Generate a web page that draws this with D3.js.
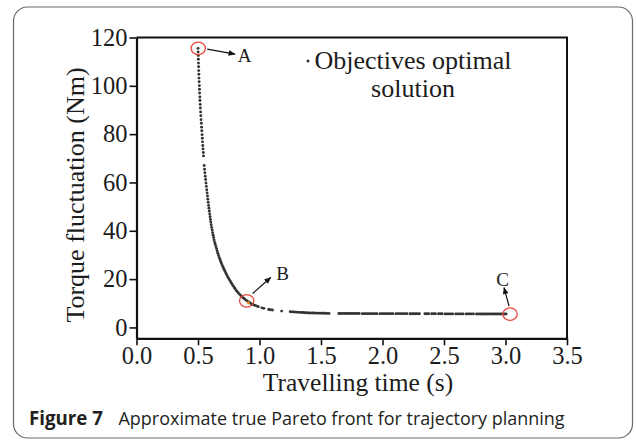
<!DOCTYPE html>
<html>
<head>
<meta charset="utf-8">
<script src="https://cdn.jsdelivr.net/npm/d3@7"></script>
<style>
  html, body { margin: 0; padding: 0; background: #fff; }
  svg { display: block; }
</style>
</head>
<body>
<svg id="chart" width="636" height="441"></svg>
<script>
// Axis ticks
const xTicks = [0, 0.5, 1.0, 1.5, 2.0, 2.5, 3.0, 3.5];
const yTicks = [0, 20, 40, 60, 80, 100, 120];

// Non-dominated solutions: [travelling time (s), torque fluctuation (Nm)]
const paretoFront = [
  [0.500,115.5],[0.501,114.0],[0.502,112.5],[0.503,111.0],[0.504,109.4],[0.505,107.9],
  [0.506,106.3],[0.507,104.8],[0.508,103.2],[0.509,101.7],[0.511,100.1],[0.512,98.6],
  [0.513,97.0],[0.515,95.4],[0.516,93.9],[0.518,92.3],[0.519,90.8],[0.521,89.2],
  [0.523,87.6],[0.525,86.0],[0.527,84.5],[0.529,82.9],[0.531,81.4],[0.533,79.8],
  [0.535,78.3],[0.537,76.8],[0.539,75.3],[0.541,73.9],[0.543,72.4],[0.545,71.0],
  [0.550,67.0],[0.553,65.5],[0.556,64.0],[0.559,62.6],[0.562,61.2],[0.565,59.8],
  [0.568,58.4],[0.571,57.0],[0.574,55.7],[0.577,54.4],[0.580,53.1],[0.583,51.8],
  [0.586,50.5],[0.589,49.3],[0.592,48.1],[0.595,46.9],[0.598,45.8],[0.601,44.7],
  [0.604,43.6],[0.607,42.5],[0.611,41.4],[0.615,40.3],[0.619,39.2],[0.623,38.2],
  [0.627,37.2],[0.631,36.2],[0.636,35.2],[0.641,34.3],[0.646,33.4],[0.651,32.5],
  [0.656,31.6],[0.661,30.7],[0.667,29.8],[0.673,28.9],[0.679,28.1],[0.685,27.3],
  [0.691,26.5],[0.697,25.7],[0.704,24.9],[0.711,24.1],[0.718,23.4],[0.725,22.6],
  [0.732,21.9],[0.740,21.1],[0.748,20.4],[0.756,19.7],[0.764,19.0],[0.772,18.3],
  [0.781,17.6],[0.790,16.9],[0.799,16.2],[0.808,15.5],[0.818,14.9],[0.828,14.3],
  [0.838,13.7],[0.849,13.1],[0.860,12.6],[0.871,12.1],[0.883,11.6],[0.895,11.1],
  [0.908,10.6],[0.920,10.2],[0.933,9.8],[0.946,9.5],[0.960,9.2],[0.975,8.9],
  [0.990,8.6],[1.020,8.1],[1.035,7.9],[1.075,7.4],[1.090,7.3],[1.105,7.2],
  [1.180,6.75],[1.250,6.5],[1.265,6.45],[1.280,6.4],[1.295,6.35],[1.310,6.3],
  [1.325,6.25],[1.340,6.2],[1.355,6.15],[1.370,6.1],[1.385,6.05],[1.400,6.0],
  [1.415,6.0],[1.430,5.95],[1.445,5.95],[1.460,5.9],[1.475,5.9],[1.490,5.9],
  [1.505,5.85],[1.520,5.85],[1.535,5.85],[1.550,5.8],[1.565,5.8],
  [1.645,5.75],[1.660,5.75],[1.675,5.75],[1.690,5.75],[1.705,5.75],[1.720,5.75],
  [1.735,5.75],[1.750,5.75],[1.765,5.75],[1.780,5.75],[1.795,5.75],[1.810,5.75],
  [1.835,5.7],[1.850,5.7],[1.865,5.7],[1.880,5.7],[1.895,5.7],[1.910,5.7],
  [1.925,5.7],[1.940,5.7],[1.955,5.7],[1.980,5.7],[1.995,5.7],[2.010,5.7],
  [2.025,5.7],[2.040,5.7],[2.055,5.7],[2.070,5.7],[2.085,5.7],[2.110,5.7],
  [2.125,5.7],[2.140,5.7],[2.155,5.7],[2.170,5.7],[2.185,5.7],[2.200,5.7],
  [2.225,5.65],[2.240,5.65],[2.255,5.65],[2.270,5.65],[2.285,5.65],[2.300,5.65],
  [2.345,5.65],[2.360,5.65],[2.375,5.65],[2.400,5.65],[2.415,5.65],[2.430,5.65],
  [2.455,5.65],[2.470,5.65],[2.485,5.65],[2.510,5.6],[2.525,5.6],[2.540,5.6],
  [2.555,5.6],[2.570,5.6],[2.595,5.6],[2.610,5.6],[2.625,5.6],[2.640,5.6],
  [2.655,5.6],[2.680,5.6],[2.695,5.6],[2.710,5.6],[2.725,5.6],[2.740,5.6],
  [2.765,5.55],[2.780,5.55],[2.795,5.55],[2.810,5.55],[2.825,5.55],[2.840,5.55],
  [2.855,5.55],[2.870,5.55],[2.885,5.55],[2.900,5.55],[2.915,5.55],[2.930,5.55],
  [2.945,5.55],[2.960,5.55],[2.975,5.55],[2.990,5.55],[3.005,5.55]
];

// Highlighted solutions
const keyLabels = ["A", "B", "C"];
const keyTime = [0.502, 0.896, 3.037];
const keyTorque = [115.5, 11.0, 5.5];
const chosenTime = [0.909];
const chosenTorque = [10.2];

const legendLines = ["Objectives optimal", "solution"];
const xTitle = "Travelling time (s)";
const yTitle = "Torque fluctuation (Nm)";
const captionBold = "Figure 7";
const captionText = "Approximate true Pareto front for trajectory planning";

const svg = d3.select("#chart");
const serif = "'Liberation Serif', 'Times New Roman', serif";
const ink = "#1c1c1c";

// Figure panel border
svg.append("rect")
  .attr("x", 13.5).attr("y", 7)
  .attr("width", 619).attr("height", 431)
  .attr("rx", 14).attr("ry", 14)
  .attr("fill", "none").attr("stroke", "#6a6a6a").attr("stroke-width", 1.2);

const x = d3.scaleLinear().domain([0, 3.5]).range([136.5, 567]);
const y = d3.scaleLinear().domain([-4.5, 120]).range([338.3, 37.5]);

// Arrow marker
svg.append("defs").append("marker")
  .attr("id", "arrowhead")
  .attr("viewBox", "0 0 10 10")
  .attr("refX", 9).attr("refY", 5)
  .attr("markerUnits", "userSpaceOnUse")
  .attr("markerWidth", 8).attr("markerHeight", 7)
  .attr("orient", "auto")
  .append("path").attr("d", "M0,1 L10,5 L0,9 Z").attr("fill", "#111");

// Axes
const gx = svg.append("g")
  .attr("transform", `translate(0,${y(-4.5)})`)
  .call(d3.axisBottom(x).tickValues(xTicks).tickFormat(d3.format(".1f"))
    .tickSize(7).tickSizeOuter(0).tickPadding(1));
const gy = svg.append("g")
  .attr("transform", `translate(${x(0)},0)`)
  .call(d3.axisLeft(y).tickValues(yTicks).tickFormat(d3.format("d"))
    .tickSize(7).tickSizeOuter(0).tickPadding(2));

[gx, gy].forEach(g => {
  g.select(".domain").attr("stroke", "#111").attr("stroke-width", 2.2);
  g.selectAll(".tick line").attr("stroke", "#111").attr("stroke-width", 1.6);
  g.selectAll(".tick text")
    .attr("font-family", serif).attr("font-size", 24.5).attr("fill", ink);
});

// Top and right frame lines
svg.append("path")
  .attr("d", `M${x(0)},${y(120)}H${x(3.5)}V${y(-4.5)}`)
  .attr("fill", "none").attr("stroke", "#111").attr("stroke-width", 2);

// Axis titles
svg.append("text")
  .attr("x", 358).attr("y", 390.5)
  .attr("text-anchor", "middle")
  .attr("font-family", serif).attr("font-size", 25.5).attr("fill", ink)
  .text(xTitle);
svg.append("text")
  .attr("transform", "translate(83.5,195) rotate(-90)")
  .attr("text-anchor", "middle")
  .attr("font-family", serif).attr("font-size", 26).attr("fill", ink)
  .text(yTitle);

// Pareto front points
svg.append("g").selectAll("circle")
  .data(paretoFront)
  .join("circle")
  .attr("cx", d => x(d[0]))
  .attr("cy", d => y(d[1]))
  .attr("r", 1.45)
  .attr("fill", "#333");

// Selected solution inside B
svg.append("g").selectAll("circle")
  .data(chosenTime)
  .join("circle")
  .attr("cx", (d, i) => x(d))
  .attr("cy", (d, i) => y(chosenTorque[i]))
  .attr("r", 1.6)
  .attr("fill", "#f08c1a");

// Key points: red rings, arrows and letters
const arrowOffsets = [
  { tail: [9, 0.7], tip: [36.7, 5.7], label: [39.5, 14], anchor: "start" },
  { tail: [6, -7.4], tip: [24, -23.4], label: [29.5, -20.5], anchor: "start" },
  { tail: [-1, -8], tip: [-6, -26.5], label: [-7.5, -28.5], anchor: "middle" }
];
keyLabels.forEach((lab, i) => {
  const cx = x(keyTime[i]), cy = y(keyTorque[i]);
  const o = arrowOffsets[i];
  svg.append("ellipse")
    .attr("cx", cx).attr("cy", cy)
    .attr("rx", 7.2).attr("ry", 6.2)
    .attr("fill", "none").attr("stroke", "#e8473f").attr("stroke-width", 1.3);
  svg.append("line")
    .attr("x1", cx + o.tail[0]).attr("y1", cy + o.tail[1])
    .attr("x2", cx + o.tip[0]).attr("y2", cy + o.tip[1])
    .attr("stroke", "#111").attr("stroke-width", 1.2)
    .attr("marker-end", "url(#arrowhead)");
  svg.append("text")
    .attr("x", cx + o.label[0]).attr("y", cy + o.label[1])
    .attr("text-anchor", o.anchor)
    .attr("font-family", serif).attr("font-size", 19).attr("fill", ink)
    .text(lab);
});

// Legend
svg.append("circle").attr("cx", 308).attr("cy", 61).attr("r", 1.5).attr("fill", "#333");
legendLines.forEach((t, i) => {
  svg.append("text")
    .attr("x", 413).attr("y", 69 + i * 27.7)
    .attr("text-anchor", "middle")
    .attr("font-family", serif).attr("font-size", 26).attr("fill", ink)
    .text(t);
});

// Caption
const sans = "'Open Sans', 'Noto Sans', sans-serif";
const cap = svg.append("text").attr("y", 425).attr("font-family", sans).attr("fill", "#231f20");
const capB = cap.append("tspan").attr("x", 29).attr("font-weight", "bold").attr("font-size", 17).text(captionBold);
const capT = cap.append("tspan").attr("x", 118.5).attr("font-size", 17).text(captionText);
// fit caption pieces to their printed widths
const wB = capB.node().getComputedTextLength();
capB.attr("font-size", 17 * 74 / wB);
const wT = capT.node().getComputedTextLength();
capT.attr("font-size", 17 * 446.5 / wT);
</script>
</body>
</html>
